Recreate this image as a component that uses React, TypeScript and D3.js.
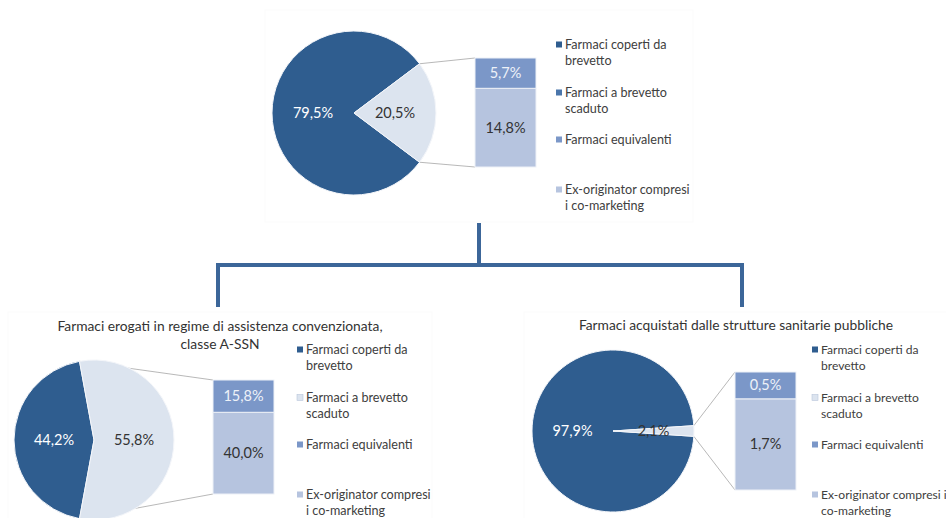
import * as d3 from "d3"

// categories shared by all three charts
const categories = [
  "Farmaci coperti da brevetto",
  "Farmaci a brevetto scaduto",
  "Farmaci equivalenti",
  "Ex-originator compresi i co-marketing",
]

// pie: [coperti da brevetto, brevetto scaduto]; bar: [equivalenti, ex-originator]
const totalPie = [79.5, 20.5]
const totalBar = [5.7, 14.8]

const convPie = [44.2, 55.8]
const convBar = [15.8, 40.0]

const pubPie = [97.9, 2.1]
const pubBar = [0.5, 1.7]

const convTitle = ["Farmaci erogati in regime di assistenza convenzionata,", "classe A-SSN"]
const pubTitle = ["Farmaci acquistati dalle strutture sanitarie pubbliche"]

// legend line breaks as in the picture
const legendLinesA = [["Farmaci coperti da", "brevetto"], ["Farmaci a brevetto", "scaduto"], ["Farmaci equivalenti"], ["Ex-originator compresi", "i co-marketing"]]
const legendLinesB = [["Farmaci coperti da", "brevetto"], ["Farmaci a brevetto", "scaduto"], ["Farmaci equivalenti"], ["Ex-originator compresi i", "co-marketing"]]

const DARK = "#2f5d8f"
const LIGHT = "#dce4ef"
const EQUIV = "#7b97c8"
const EXORIG = "#b6c4df"
const FONT = "Lato, 'Open Sans', sans-serif"

const fmt = (v: number) => d3.format(".1f")(v).replace(".", ",") + "%"

interface ChartProps {
  pieVals: number[]
  barVals: number[]
  legendLines: string[][]
  legendColors: string[]
  title?: string[]
  titleX?: number
  titleY?: number
  cx: number
  cy: number
  r: number
  barX: number
  barW: number
  barTop: number
  barBottom: number
  legX: number
  legY: number
  legSize?: number
}

function PieOfBar(p: ChartProps) {
  const half = ((p.pieVals[1] / d3.sum(p.pieVals)) * Math.PI * 2) / 2
  const pie = d3
    .pie<number>()
    .sort(null)
    .value((d) => d)
    .startAngle(Math.PI / 2 + half)
    .endAngle(Math.PI / 2 + half + Math.PI * 2)
  const arcs = pie(p.pieVals)
  const arc = d3.arc<d3.PieArcDatum<number>>().innerRadius(0).outerRadius(p.r)
  const pieColors = [DARK, LIGHT]
  const labelColors = ["#ffffff", "#333333"]

  // bar: ex-originator at bottom, equivalenti stacked on top
  const y = d3.scaleLinear().domain([0, d3.sum(p.barVals)]).range([p.barBottom, p.barTop])
  const segs = [
    { v: p.barVals[1], y0: 0, y1: p.barVals[1], color: EXORIG, text: "#333333" },
    { v: p.barVals[0], y0: p.barVals[1], y1: p.barVals[1] + p.barVals[0], color: EQUIV, text: "#eef2f8" },
  ]

  // connector lines from the edges of the exploded slice
  const a1 = Math.PI / 2 - half
  const a2 = Math.PI / 2 + half
  const e1 = [p.cx + p.r * Math.sin(a1), p.cy - p.r * Math.cos(a1)]
  const e2 = [p.cx + p.r * Math.sin(a2), p.cy - p.r * Math.cos(a2)]

  return (
    <g>
      {p.title &&
        p.title.map((t, i) => (
          <text key={t} x={p.titleX} y={(p.titleY || 0) + i * 18} textAnchor="middle" fontSize={13.8} fill="#333" fontFamily={FONT}>
            {t}
          </text>
        ))}
      <line x1={e1[0]} y1={e1[1]} x2={p.barX} y2={p.barTop} stroke="#a6a6a6" strokeWidth={0.8} />
      <line x1={e2[0]} y1={e2[1]} x2={p.barX} y2={p.barBottom} stroke="#a6a6a6" strokeWidth={0.8} />
      <g transform={`translate(${p.cx},${p.cy})`}>
        {arcs.map((a, i) => (
          <path key={i} d={arc(a) || ""} fill={pieColors[i]} stroke="#f4f6fa" strokeWidth={1} />
        ))}
        {arcs.map((a, i) => {
          const c = d3.arc<d3.PieArcDatum<number>>().innerRadius(0).outerRadius(p.r).centroid(a)
          return (
            <text key={"l" + i} x={c[0]} y={c[1]} dy="0.35em" textAnchor="middle" fontSize={14.5} fill={labelColors[i]} fontFamily={FONT}>
              {fmt(p.pieVals[i])}
            </text>
          )
        })}
      </g>
      {segs.map((s, i) => (
        <g key={i}>
          <rect x={p.barX} y={y(s.y1)} width={p.barW} height={y(s.y0) - y(s.y1)} fill={s.color} stroke="#eef1f7" strokeWidth={1} />
          <text x={p.barX + p.barW / 2} y={(y(s.y0) + y(s.y1)) / 2} dy="0.35em" textAnchor="middle" fontSize={14.5} fill={s.text} fontFamily={FONT}>
            {fmt(s.v)}
          </text>
        </g>
      ))}
      {categories.map((c, i) => {
        const top = p.legY + [0, 48, 95, 145][i]
        return (
          <g key={c}>
            <rect x={p.legX} y={top - 3.5} width={6} height={6} fill={p.legendColors[i]} stroke={p.legendColors[i] === LIGHT ? "#b9c6da" : "none"} strokeWidth={0.6} />
            {p.legendLines[i].map((t, j) => (
              <text key={t} x={p.legX + 9} y={top + j * 16} dy="0.35em" fontSize={p.legSize || 12.6} fill="#404040" fontFamily={FONT}>
                {t}
              </text>
            ))}
          </g>
        )
      })}
    </g>
  )
}

export default function App() {
  return (
    <svg width={946} height={518} style={{ position: "absolute", left: 0, top: 0, background: "#fff" }}>
      {/* faint chart areas */}
      <rect x={265} y={10} width={428} height={212} fill="#fff" stroke="#fbfbfb" />
      <rect x={8} y={312} width={424} height={210} fill="#fff" stroke="#fbfbfb" />
      <rect x={524} y={312} width={430} height={210} fill="#fff" stroke="#fbfbfb" />

      {/* bracket */}
      <path d="M479,223 V265 M218,307 V265 H742 V307" fill="none" stroke="#3c6699" strokeWidth={4} />

      <PieOfBar
        pieVals={totalPie}
        barVals={totalBar}
        legendLines={legendLinesA}
        legendColors={[DARK, "#4a76ab", EQUIV, EXORIG]}
        cx={354}
        cy={113}
        r={82}
        barX={475}
        barW={61}
        barTop={58}
        barBottom={167}
        legX={556}
        legY={45}
      />
      <PieOfBar
        pieVals={convPie}
        barVals={convBar}
        legendLines={legendLinesA}
        legendColors={[DARK, LIGHT, EQUIV, EXORIG]}
        title={convTitle}
        titleX={220}
        titleY={331}
        cx={94}
        cy={440}
        r={80}
        barX={213}
        barW={61}
        barTop={380}
        barBottom={494}
        legX={297}
        legY={350}
      />
      <PieOfBar
        pieVals={pubPie}
        barVals={pubBar}
        legendLines={legendLinesB}
        legendColors={[DARK, LIGHT, EQUIV, EXORIG]}
        title={pubTitle}
        titleX={736}
        titleY={330}
        cx={613}
        cy={431}
        r={81}
        barX={735}
        barW={61}
        barTop={372}
        barBottom={490}
        legX={812}
        legY={350}
        legSize={12.1}
      />
    </svg>
  )
}
